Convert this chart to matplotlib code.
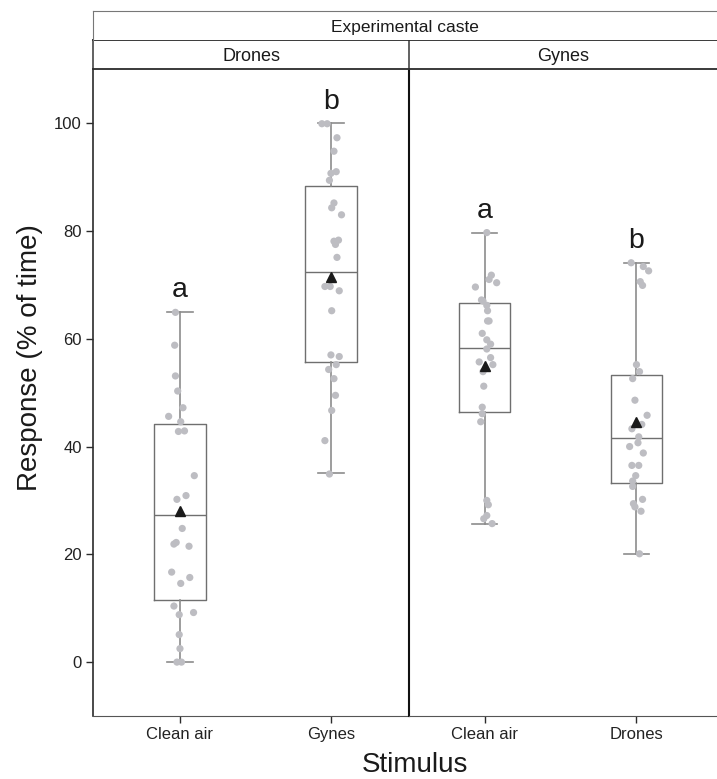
import matplotlib.pyplot as plt

plt.rcParams['font.family'] = ['Liberation Sans', 'DejaVu Sans']

# panels (experimental caste) and stimuli
castes = ["Drones", "Gynes"]
stimuli = [["Clean air", "Gynes"], ["Clean air", "Drones"]]
letters = [["a", "b"], ["a", "b"]]

# raw responses (% of time)
drones_clean = [64.9, 58.8, 53.1, 50.3, 47.2, 45.6, 44.6, 42.8, 42.9, 34.6, 30.9, 30.2, 24.8,
                21.9, 22.2, 21.5, 16.7, 15.7, 14.6, 10.4, 8.8, 9.2, 5.1, 2.5, 0.0, 0.0]
drones_gynes = [99.9, 99.9, 97.3, 94.8, 91.0, 90.7, 89.4, 85.2, 84.3, 83.0, 78.1, 78.3, 77.5, 75.1,
                69.7, 69.7, 68.9, 65.2, 57.0, 56.7, 55.2, 54.3, 52.6, 49.5, 46.7, 41.1, 34.9]
gynes_clean = [79.7, 71.8, 71.0, 70.4, 69.6, 67.2, 67.0, 66.2, 65.2, 63.3, 63.3, 61.0, 59.8, 59.0,
               58.1, 56.5, 55.7, 55.2, 53.9, 51.2, 47.3, 46.1, 44.6, 30.0, 29.2, 27.2, 26.6, 25.7]
gynes_drones = [74.1, 73.4, 72.6, 70.6, 69.9, 55.2, 53.9, 52.6, 48.6, 45.8, 44.1, 43.3, 41.8,
                40.7, 40.0, 38.8, 36.5, 36.5, 34.6, 33.6, 32.6, 29.4, 30.2, 28.8, 28.0, 20.1]

# horizontal jitter of the dots (x units)
jit_dc = [-0.03, -0.035, -0.03, -0.015, 0.02, -0.075, 0.005, -0.01, 0.03, 0.095, 0.04, -0.02, 0.015,
          -0.04, -0.025, 0.06, -0.055, 0.065, 0.005, -0.04, -0.005, 0.09, -0.005, 0.0, -0.02, 0.01]
jit_dg = [-0.06, -0.025, 0.04, 0.02, 0.035, 0.0, -0.01, 0.02, 0.005, 0.07, 0.02, 0.05, 0.03, 0.04,
          -0.04, -0.005, 0.055, 0.005, 0.0, 0.055, 0.035, -0.015, 0.02, 0.03, 0.005, -0.04, -0.01]
jit_gc = [0.015, 0.045, 0.03, 0.08, -0.06, -0.02, -0.01, 0.015, 0.02, 0.02, 0.03, -0.015, 0.015, 0.04,
          0.015, 0.04, -0.035, 0.055, -0.01, -0.005, -0.015, -0.015, -0.025, 0.015, 0.025, 0.015, -0.005, 0.05]
jit_gd = [-0.035, 0.045, 0.08, 0.025, 0.04, 0.0, 0.02, -0.025, -0.01, 0.07, 0.035, -0.03, 0.015,
          0.01, -0.045, 0.045, -0.03, 0.015, -0.005, -0.025, -0.025, -0.02, 0.04, -0.01, 0.03, 0.02]

# box statistics as drawn (whislo, q1, median, q3, whishi, mean)
whislo = [[0.0, 35.0], [25.7, 20.1]]
q1 = [[11.5, 55.6], [46.5, 33.3]]
med = [[27.3, 72.4], [58.2, 41.6]]
q3 = [[44.2, 88.3], [66.6, 53.3]]
whishi = [[65.0, 100.0], [79.7, 74.1]]
means = [[28.1, 71.5], [55.0, 44.5]]

points = [[drones_clean, drones_gynes], [gynes_clean, gynes_drones]]
jitter = [[jit_dc, jit_dg], [jit_gc, jit_gd]]

W, H = 717, 779
fig = plt.figure(figsize=(W / 100, H / 100), dpi=100)


def fx(px):
    return px / W


def fy(py):
    return 1 - py / H


dark = '#2b2b2b'
panels = [(93, 409, (0.424, 2.517)), (409, 717, (0.503, 2.53))]
top, bottom = 69.3, 716

for i, (x0, x1, xl) in enumerate(panels):
    ax = fig.add_axes([fx(x0), fy(bottom), fx(x1 - x0), fy(top) - fy(bottom)])
    stats = []
    for j in range(2):
        stats.append(dict(whislo=whislo[i][j], q1=q1[i][j], med=med[i][j], q3=q3[i][j],
                          whishi=whishi[i][j], mean=means[i][j], fliers=[]))
    ax.bxp(stats, positions=[1, 2], widths=0.34, showmeans=True, showfliers=False,
           boxprops=dict(color='#6f6f6f', lw=1.0),
           medianprops=dict(color='#6f6f6f', lw=1.0),
           whiskerprops=dict(color='#8c8c8c', lw=1.2),
           capprops=dict(color='#8c8c8c', lw=1.2),
           meanprops=dict(marker='^', markerfacecolor='#1a1a1a', markeredgecolor='#1a1a1a',
                          markersize=7.5, zorder=5))
    for j in range(2):
        xs = [1 + j + d for d in jitter[i][j]]
        ax.scatter(xs, points[i][j], s=27, color='#bdbdc2', edgecolors='none', zorder=4)
        ax.text(1 + j, whishi[i][j] + 2.7, letters[i][j], ha='center', va='baseline',
                fontsize=20.5, color='#1a1a1a')
    ax.set_xlim(*xl)
    ax.set_ylim(-10, 110)
    ax.set_xticks([1, 2])
    ax.set_xticklabels(stimuli[i], fontsize=12, color='#222222')
    ax.tick_params(axis='x', length=5, width=1, color=dark, pad=3)
    ax.spines['top'].set_visible(False)
    ax.spines['right'].set_visible(False)
    ax.spines['bottom'].set_color('#555555')
    ax.spines['left'].set_color('#111111' if i == 1 else dark)
    ax.spines['left'].set_linewidth(1.5 if i == 1 else 1.2)
    if i == 0:
        ax.set_yticks([0, 20, 40, 60, 80, 100])
        ax.tick_params(axis='y', length=5, width=1, color=dark, labelsize=12,
                       labelcolor='#222222', pad=3)
    else:
        ax.set_yticks([])

    # caste strip
    hs = fig.add_axes([fx(x0), fy(top), fx(x1 - x0), fy(40.3) - fy(top)])
    hs.set_xticks([])
    hs.set_yticks([])
    hs.spines['right'].set_visible(False)
    for s in ['top', 'bottom', 'left']:
        hs.spines[s].set_color(dark if s != 'left' else '#555555')
        hs.spines[s].set_linewidth(1.3)
    hs.text(0.5, 0.45, castes[i], ha='center', va='center', fontsize=13,
            color='#1a1a1a', transform=hs.transAxes)

# outer header
hh = fig.add_axes([fx(93), fy(40.3), fx(717 - 93), fy(11) - fy(40.3)])
hh.set_xticks([])
hh.set_yticks([])
hh.spines['right'].set_visible(False)
hh.spines['bottom'].set_visible(False)
hh.spines['top'].set_color('#777777')
hh.spines['left'].set_color('#777777')
hh.text(0.5, 0.45, "Experimental caste", ha='center', va='center', fontsize=12.5,
        color='#1a1a1a', transform=hh.transAxes)

fig.text(fx(30), fy(358), "Response (% of time)", rotation=90, ha='center', va='center',
         fontsize=20, color='#1a1a1a')
fig.text(fx(415), fy(765), "Stimulus", ha='center', va='center', fontsize=20, color='#1a1a1a')

fig.savefig('out.png', dpi=100)
